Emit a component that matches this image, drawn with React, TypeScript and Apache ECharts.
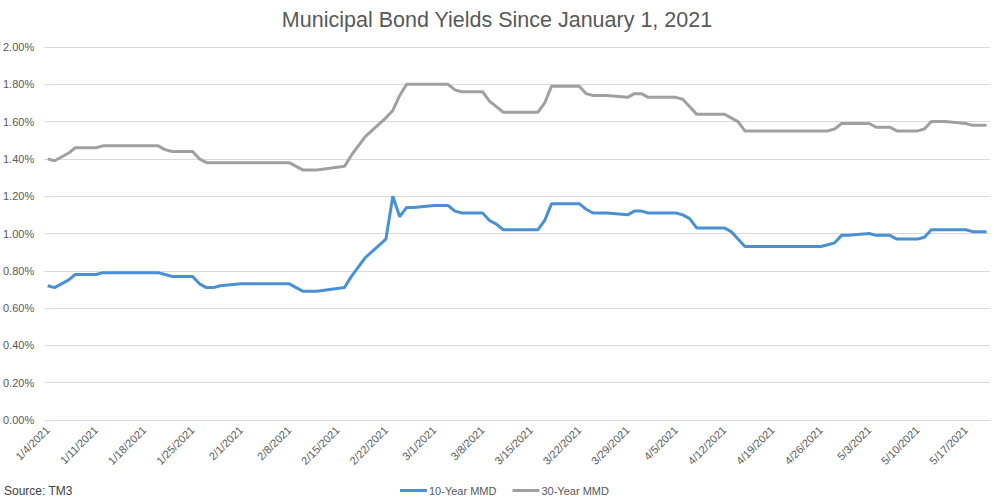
import React, { useEffect, useRef } from "react";
import * as echarts from "echarts";

const titleText = "Municipal Bond Yields Since January 1, 2021";
const sourceText = "Source: TM3";
const seriesNames = ["10-Year MMD", "30-Year MMD"];
const yTicks = [0, 0.2, 0.4, 0.6, 0.8, 1.0, 1.2, 1.4, 1.6, 1.8, 2.0];

const tradeDates = [
  "1/4", "1/5", "1/6", "1/7", "1/8", "1/11", "1/12", "1/13", "1/14", "1/15", "1/19", "1/20", "1/21", "1/22", "1/25", "1/26", "1/27", "1/28", "1/29",
  "2/1", "2/2", "2/3", "2/4", "2/5", "2/8", "2/9", "2/10", "2/11", "2/12", "2/16", "2/17", "2/18", "2/19", "2/22", "2/23", "2/24", "2/25", "2/26",
  "3/1", "3/2", "3/3", "3/4", "3/5", "3/8", "3/9", "3/10", "3/11", "3/12", "3/15", "3/16", "3/17", "3/18", "3/19", "3/22", "3/23", "3/24", "3/25", "3/26", "3/29", "3/30", "3/31",
  "4/1", "4/5", "4/6", "4/7", "4/8", "4/9", "4/12", "4/13", "4/14", "4/15", "4/16", "4/19", "4/20", "4/21", "4/22", "4/23", "4/26", "4/27", "4/28", "4/29", "4/30",
  "5/3", "5/4", "5/5", "5/6", "5/7", "5/10", "5/11", "5/12", "5/13", "5/14", "5/17", "5/18", "5/19", "5/20",
];

const mmd10 = [
  0.72, 0.71, 0.73, 0.75, 0.78, 0.78, 0.79, 0.79, 0.79, 0.79, 0.79, 0.79, 0.78, 0.77, 0.77, 0.73, 0.71, 0.71, 0.72,
  0.73, 0.73, 0.73, 0.73, 0.73, 0.73, 0.71, 0.69, 0.69, 0.69, 0.71, 0.77, 0.82, 0.87, 0.97, 1.2, 1.09, 1.14, 1.14,
  1.15, 1.15, 1.15, 1.12, 1.11, 1.11, 1.07, 1.05, 1.02, 1.02, 1.02, 1.02, 1.07, 1.16, 1.16, 1.16, 1.13, 1.11, 1.11, 1.11, 1.1, 1.12, 1.12,
  1.11, 1.11, 1.1, 1.08, 1.03, 1.03, 1.03, 1.01, 0.97, 0.93, 0.93, 0.93, 0.93, 0.93, 0.93, 0.93, 0.93, 0.94, 0.95, 0.99, 0.99,
  1.0, 0.99, 0.99, 0.99, 0.97, 0.97, 0.98, 1.02, 1.02, 1.02, 1.02, 1.01, 1.01, 1.01,
];

const mmd30 = [
  1.4, 1.39, 1.41, 1.43, 1.46, 1.46, 1.47, 1.47, 1.47, 1.47, 1.47, 1.47, 1.45, 1.44, 1.44, 1.4, 1.38, 1.38, 1.38,
  1.38, 1.38, 1.38, 1.38, 1.38, 1.38, 1.36, 1.34, 1.34, 1.34, 1.36, 1.42, 1.47, 1.52, 1.62, 1.66, 1.74, 1.8, 1.8,
  1.8, 1.8, 1.8, 1.77, 1.76, 1.76, 1.71, 1.68, 1.65, 1.65, 1.65, 1.65, 1.7, 1.79, 1.79, 1.79, 1.75, 1.74, 1.74, 1.74, 1.73, 1.75, 1.75,
  1.73, 1.73, 1.72, 1.68, 1.64, 1.64, 1.64, 1.62, 1.6, 1.55, 1.55, 1.55, 1.55, 1.55, 1.55, 1.55, 1.55, 1.55, 1.56, 1.59, 1.59,
  1.59, 1.57, 1.57, 1.57, 1.55, 1.55, 1.56, 1.6, 1.6, 1.6, 1.59, 1.58, 1.58, 1.58,
];

const axisStart = { year: 2021, month: 0, day: 4 };
const axisDayCount = 137;

function buildDays(): string[] {
  const out: string[] = [];
  for (let i = 0; i < axisDayCount; i++) {
    const d = new Date(axisStart.year, axisStart.month, axisStart.day + i);
    out.push(`${d.getMonth() + 1}/${d.getDate()}`);
  }
  return out;
}

export default function App() {
  const ref = useRef<HTMLDivElement>(null);
  useEffect(() => {
    if (!ref.current) return;
    const chart = echarts.init(ref.current, undefined, { renderer: "svg" });
    const days = buildDays();
    const map10: Record<string, number> = {};
    const map30: Record<string, number> = {};
    tradeDates.forEach((d, i) => {
      map10[d] = mmd10[i];
      map30[d] = mmd30[i];
    });
    const cats = days.map((d) => `${d}/2021`);
    const s10 = days.map((d) => (d in map10 ? map10[d] : null));
    const s30 = days.map((d) => (d in map30 ? map30[d] : null));
    const font = "'Liberation Sans', Arial, sans-serif";
    chart.setOption({
      animation: false,
      backgroundColor: "#ffffff",
      title: {
        text: titleText,
        left: "center",
        top: 4,
        textStyle: { fontFamily: font, fontSize: 21.5, fontWeight: "normal", color: "#595959" },
      },
      legend: {
        left: 400,
        top: 485,
        padding: 0,
        icon: "rect",
        itemWidth: 27,
        itemHeight: 3,
        itemGap: 16,
        textStyle: { fontFamily: font, fontSize: 11, color: "#595959", padding: [0, 0, 0, -3] },
        data: seriesNames,
      },
      graphic: [
        {
          type: "text",
          left: 4,
          top: 485,
          style: { text: sourceText, fontFamily: font, fontSize: 12, fill: "#404040" },
        },
      ],
      grid: { left: 44, right: 4, top: 47, bottom: 80, containLabel: false },
      xAxis: {
        type: "category",
        data: cats,
        boundaryGap: true,
        axisLine: { lineStyle: { color: "#D9D9D9" } },
        axisTick: { interval: 6, length: 5, lineStyle: { color: "#D9D9D9" } },
        axisLabel: {
          interval: 6,
          rotate: 45,
          margin: 8,
          fontFamily: font,
          fontSize: 11,
          color: "#595959",
        },
        splitLine: { show: false },
      },
      yAxis: {
        type: "value",
        min: yTicks[0],
        max: yTicks[yTicks.length - 1],
        interval: 0.2,
        axisLine: { show: false },
        axisTick: { show: false },
        axisLabel: {
          margin: 10,
          fontFamily: font,
          fontSize: 11,
          color: "#595959",
          formatter: (v: number) => v.toFixed(2) + "%",
        },
        splitLine: { lineStyle: { color: "#D9D9D9", width: 1 } },
      },
      series: [
        {
          name: seriesNames[0],
          type: "line",
          data: s10,
          connectNulls: true,
          symbol: "none",
          lineStyle: { width: 3, color: "#4A90D2" },
          itemStyle: { color: "#4A90D2" },
        },
        {
          name: seriesNames[1],
          type: "line",
          data: s30,
          connectNulls: true,
          symbol: "none",
          lineStyle: { width: 3, color: "#A0A0A0" },
          itemStyle: { color: "#A0A0A0" },
        },
      ],
    });
    return () => chart.dispose();
  }, []);
  return <div ref={ref} style={{ width: 994, height: 500, position: "absolute", left: 0, top: 0 }} />;
}
